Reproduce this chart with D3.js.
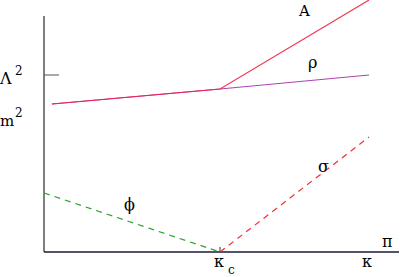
<!DOCTYPE html>
<html lang="en">
<head>
<meta charset="UTF-8">
<title>phase diagram</title>
<style>
  body { margin: 0; background: #fff; }
</style>
</head>
<body>
<script src="https://cdn.jsdelivr.net/npm/d3@7"></script>
<script>
// kappa in units of kappa_c, masses in arbitrary units
var kappaA = [0.045, 1, 1.847];
var massA = [148, 163, 252];
var kappaRho = [0.045, 1, 1.847];
var massRho = [148, 163, 177];
var kappaPhi = [0, 1];
var massPhi = [59, 0];
var kappaSigma = [1, 1.847];
var massSigma = [0, 115];
var lambda2 = 177;

var w = 400, h = 277;
var svg = d3.select("body").append("svg").attr("width", w).attr("height", h);

var x = d3.scaleLinear().domain([0, 2.017]).range([44, 399]);
var y = d3.scaleLinear().domain([0, 236]).range([252, 16]);

var line = d3.line().x(function (d) { return x(d[0]); }).y(function (d) { return y(d[1]); });
function pts(xs, ys) { return xs.map(function (v, i) { return [v, ys[i]]; }); }

// axes
svg.append("line").attr("x1", x(0)).attr("x2", x(0)).attr("y1", y(236)).attr("y2", y(0))
    .attr("stroke", "#555").attr("stroke-width", 1.5);
svg.append("line").attr("x1", x(0)).attr("x2", x(2.017)).attr("y1", y(0)).attr("y2", y(0))
    .attr("stroke", "#1a1a3a").attr("stroke-width", 1.5);
svg.append("line").attr("x1", x(0)).attr("x2", x(0) + 15).attr("y1", y(lambda2)).attr("y2", y(lambda2))
    .attr("stroke", "#555").attr("stroke-width", 1);
svg.append("line").attr("x1", x(1)).attr("x2", x(1)).attr("y1", y(0) - 5).attr("y2", y(0))
    .attr("stroke", "#333").attr("stroke-width", 1);

// curves
svg.append("path").datum(pts(kappaRho, massRho)).attr("d", line)
    .attr("fill", "none").attr("stroke", "#b040b8").attr("stroke-width", 1.2);
svg.append("path").datum(pts(kappaA, massA)).attr("d", line)
    .attr("fill", "none").attr("stroke", "#f02040").attr("stroke-width", 1.2)
    .attr("stroke-opacity", 0.9);
svg.append("path").datum(pts(kappaPhi, massPhi)).attr("d", line)
    .attr("fill", "none").attr("stroke", "#30a030").attr("stroke-width", 1.2)
    .attr("stroke-dasharray", "6,5");
svg.append("path").datum(pts(kappaSigma, massSigma)).attr("d", line)
    .attr("fill", "none").attr("stroke", "#f03030").attr("stroke-width", 1.2)
    .attr("stroke-dasharray", "6,5");

// labels
function label(txt, px, py, size) {
  return svg.append("text").attr("x", px).attr("y", py)
      .attr("font-family", "'DejaVu Serif', serif").attr("font-size", size)
      .attr("fill", "#000").text(txt);
}
label("A", 299, 16, 15);
label("\u03C1", 308, 68, 16);
label("\u03C3", 318, 172, 16);
label("\u03D5", 124, 210, 16);
label("\u03C0", 382, 247, 16);
label("\u03BA", 362, 267, 16);
label("\u03BA", 214, 267, 16);
label("c", 228, 274, 12);
label("\u039B", 0, 84, 16);
label("2", 15, 75, 12);
label("m", 0, 126, 15);
label("2", 15, 117, 12);
</script>
</body>
</html>
